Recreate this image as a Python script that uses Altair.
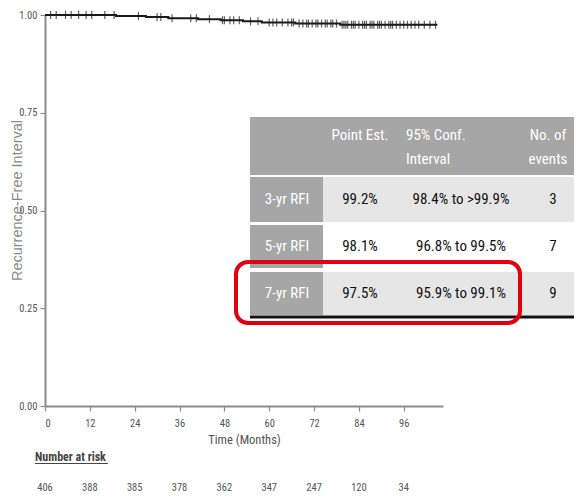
import altair as alt
import pandas as pd
import numpy as np

# ---------------- data ----------------
event_times = [0, 19, 27, 33, 41, 47, 53, 58, 67, 79]
event_surv = [1.0, 0.9975, 0.995, 0.992, 0.9893, 0.9866, 0.9838, 0.981, 0.978, 0.975]
end_time = 105
censor_times = [1.5, 3, 5.5, 7, 9, 11, 12.5, 16, 18.5, 25, 30, 31, 34, 39, 40.5, 44,
                 47.5, 48, 49.5, 50.5, 52, 55, 57, 60, 61, 62, 63.5, 65, 66, 66.5, 68, 69, 70,
                 70.5, 71.5, 72.5, 73, 74, 75, 75.5, 76.5, 77, 78, 79.5, 80, 80.5, 81,
                 82, 82.5, 83, 84, 85, 85.5, 86, 87, 87.5, 88, 89, 89.5, 90, 91, 92,
                 92.5, 93, 94, 95, 96, 97, 98, 99, 100, 101.5, 103, 104.5]
x_ticks = [0, 12, 24, 36, 48, 60, 72, 84, 96]
y_ticks = [0.0, 0.25, 0.5, 0.75, 1.0]
risk_times = [0, 12, 24, 36, 48, 60, 72, 84, 96]
risk_n = [406, 388, 385, 378, 362, 347, 247, 120, 34]

header_cols = [["Point Est."], ["95% Conf.", "Interval"], ["No. of", "events"]]
row_labels = ["3-yr RFI", "5-yr RFI", "7-yr RFI"]
point_est = ["99.2%", "98.1%", "97.5%"]
conf_int = ["98.4% to >99.9%", "96.8% to 99.5%", "95.9% to 99.1%"]
n_events = ["3", "7", "9"]

x_title = "Time (Months)"
y_title = "Recurrence-Free Interval"
risk_title = "Number at risk"

# ---------------- layout helpers ----------------
PX0, PY0 = 45, 15          # page position of plot origin
W, H = 398, 391
NARROW = "Liberation Sans Narrow, Arial Narrow, Roboto Condensed, DejaVu Sans Condensed, sans-serif"
WIDE = "Liberation Sans, Arial, sans-serif"


def px(v):
    return v - PX0


def py(v):
    return v - PY0


one = pd.DataFrame({"d": [0]})

# ---------------- KM curve ----------------
km = pd.DataFrame({"time": event_times + [end_time],
                   "surv": event_surv + [event_surv[-1]]})
idx = np.searchsorted(np.array(event_times), np.array(censor_times), side="right") - 1
cens = pd.DataFrame({"time": censor_times, "surv": np.array(event_surv)[idx]})

xscale = alt.Scale(domain=[0, 106.5], nice=False, zero=False)
yscale = alt.Scale(domain=[0, 1], nice=False)

line = alt.Chart(km).mark_line(interpolate="step-after", color="#1a1a1a", strokeWidth=2).encode(
    x=alt.X("time:Q", scale=xscale,
            axis=alt.Axis(values=x_ticks, title=x_title, grid=False, format="d",
                          labelPadding=7, titlePadding=5, titleFontSize=12.5,
                          titleFontWeight="normal", titleColor="#555555")),
    y=alt.Y("surv:Q", scale=yscale,
            axis=alt.Axis(values=y_ticks, title=y_title, grid=False, format=".2f",
                          labelPadding=3, titleFontSize=14.5, titleFontWeight="normal",
                          titleFont=WIDE, titleColor="#8a8a8a", titleX=-24, titleY=185,
                          titleAngle=270, titleBaseline="alphabetic", titleAlign="center")),
)
ticks = alt.Chart(cens).mark_tick(orient="vertical", size=8, thickness=1.2, color="#1a1a1a").encode(
    x=alt.X("time:Q", scale=xscale), y=alt.Y("surv:Q", scale=yscale)
)

layers = [line, ticks]

# ---------------- number at risk ----------------
risk_df = pd.DataFrame({"time": risk_times, "n": [str(v) for v in risk_n]})
layers.append(alt.Chart(risk_df).mark_text(font=NARROW, fontSize=10.5, color="#555555",
                                            baseline="middle").encode(
    x=alt.X("time:Q", scale=xscale), y=alt.value(py(488)), text="n:N"))
layers.append(alt.Chart(one).mark_text(font=NARROW, fontSize=12, fontWeight="bold", color="#444444",
                                       align="left", baseline="middle").encode(
    x=alt.value(px(35)), y=alt.value(py(457)), text=alt.value(risk_title)))
layers.append(alt.Chart(one).mark_rule(color="#444444", strokeWidth=1).encode(
    x=alt.value(px(35)), x2=alt.value(px(108)), y=alt.value(py(463.5))))


# ---------------- table ----------------
def rect(x1, x2, y1, y2, fill):
    return alt.Chart(one).mark_rect(color=fill).encode(
        x=alt.value(px(x1)), x2=alt.value(px(x2)), y=alt.value(py(y1)), y2=alt.value(py(y2)))


def text(s, x, y, color="#111111", size=15, align="center"):
    return alt.Chart(one).mark_text(font=NARROW, fontSize=size, color=color, align=align,
                                    baseline="middle", lineHeight=24).encode(
        x=alt.value(px(x)), y=alt.value(py(y)), text=alt.value(s))


TR = 600
HDR = "#a6a6a6"
layers.append(rect(250, TR, 117, 175, HDR))
row_y = [(177, 222), (225, 268), (272, 315)]
row_fill = ["#e6e6e6", "#ffffff", "#e6e6e6"]
for (y1, y2), f in zip(row_y, row_fill):
    layers.append(rect(250, 323, y1, y2, HDR))
    layers.append(rect(323, TR, y1, y2, f))
layers.append(alt.Chart(one).mark_rule(color="#111111", strokeWidth=3).encode(
    x=alt.value(px(250)), x2=alt.value(px(TR)), y=alt.value(py(317))))

col_x = [360, 458, 548]
layers.append(text(header_cols[0][0], col_x[0], 135, color="white"))
layers.append(text(header_cols[1], 406, 135, color="white", align="left"))
layers.append(text(header_cols[2], col_x[2], 135, color="white"))
for i, (y1, y2) in enumerate(row_y):
    yc = (y1 + y2) / 2 - 1
    layers.append(text(row_labels[i], 287, yc, color="white"))
    layers.append(text(point_est[i], col_x[0], yc))
    layers.append(text(conf_int[i], 461, yc))
    layers.append(text(n_events[i], 553, yc))

# red highlight
layers.append(alt.Chart(one).mark_rect(fill=None, stroke="#e3000f", strokeWidth=4, cornerRadius=12).encode(
    x=alt.value(px(236)), x2=alt.value(px(520)), y=alt.value(py(262)), y2=alt.value(py(323))))

chart = alt.layer(*layers).properties(
    width=W, height=H,
    autosize=alt.AutoSizeParams(type="none"),
    padding={"left": PX0 - 8, "top": PY0 - 8, "right": 566 - (PX0 - 8) - W, "bottom": 485 - (PY0 - 8) - H},
    background="white",
).configure_view(stroke=None).configure_axis(
    domainColor="#8c8c8c", domainWidth=2, tickColor="#8c8c8c", tickWidth=1.2, tickSize=5,
    labelFont=NARROW, titleFont=NARROW, labelColor="#555555", labelFontSize=10.5,
)

chart.save("out.html", embed_options={"renderer": "svg", "actions": False})
